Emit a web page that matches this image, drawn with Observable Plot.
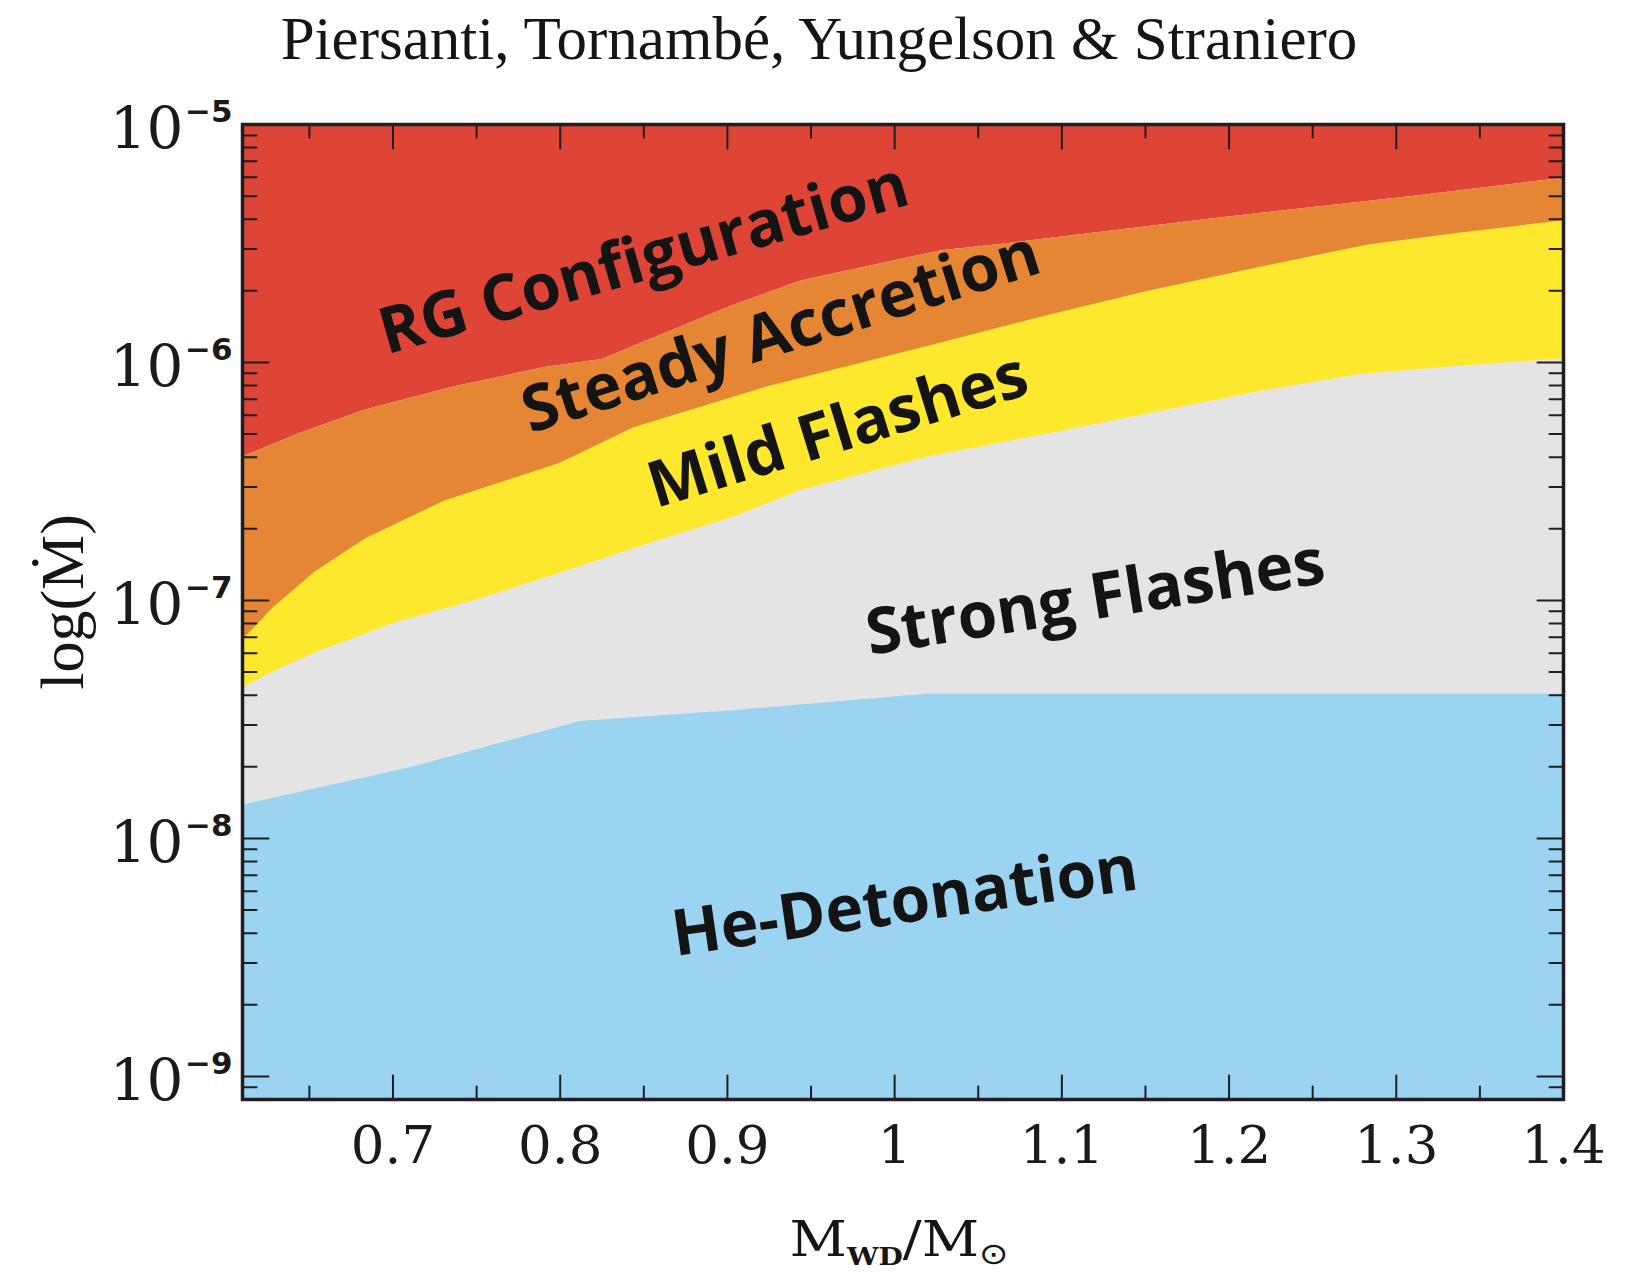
<!DOCTYPE html>
<html>
<head>
<meta charset="utf-8">
<script src="https://cdn.jsdelivr.net/npm/d3@7"></script>
<script src="https://cdn.jsdelivr.net/npm/@observablehq/plot@0.6"></script>
<style>
  html, body { margin: 0; padding: 0; background: #fff; overflow: hidden; }
  #title {
    width: 1638px; height: 84px; text-align: center;
    font-family: "Liberation Serif", "DejaVu Serif", serif;
    font-size: 61px; line-height: 78px; color: #151515;
  }
</style>
</head>
<body>
<div id="title">Piersanti, Tornambé, Yungelson &amp; Straniero</div>
<div id="chart"></div>
<script>
// Upper edge of each accretion regime: white-dwarf mass (M_sun) and accretion rate (M_sun/yr).
const steadyTopMass = [0.61, 0.643, 0.683, 0.737, 0.79, 0.825, 0.903, 0.944, 1.028, 1.066, 1.188, 1.311, 1.40];
const steadyTopRate = [4.0e-7, 5.0e-7, 6.3e-7, 7.9e-7, 9.5e-7, 1.03e-6, 1.73e-6, 2.2e-6, 2.95e-6, 3.15e-6, 4.0e-6, 5.0e-6, 5.95e-6];

const mildTopMass = [0.61, 0.628, 0.653, 0.684, 0.731, 0.80, 0.844, 0.924, 1.022, 1.091, 1.153, 1.216, 1.283, 1.341, 1.40];
const mildTopRate = [6.8e-8, 9.25e-8, 1.31e-7, 1.82e-7, 2.62e-7, 3.77e-7, 5.32e-7, 7.9e-7, 1.18e-6, 1.57e-6, 2.0e-6, 2.49e-6, 3.12e-6, 3.52e-6, 3.94e-6];

const strongTopMass = [0.61, 0.628, 0.653, 0.70, 0.747, 0.80, 0.853, 0.903, 0.944, 1.019, 1.091, 1.153, 1.216, 1.278, 1.341, 1.40];
const strongTopRate = [4.3e-8, 5.0e-8, 6.0e-8, 8.0e-8, 9.9e-8, 1.3e-7, 1.73e-7, 2.23e-7, 2.9e-7, 4.0e-7, 5.0e-7, 6.1e-7, 7.5e-7, 8.9e-7, 9.7e-7, 1.035e-6];

const heTopMass = [0.61, 0.709, 0.812, 0.903, 1.019, 1.40];
const heTopRate = [1.38e-8, 1.97e-8, 3.1e-8, 3.44e-8, 4.04e-8, 4.04e-8];

// Regime names and where they are written.
const labelText  = ["RG Configuration", "Steady Accretion", "Mild Flashes", "Strong Flashes", "He-Detonation"];
const labelMass  = [0.850, 0.932, 0.966, 1.120, 1.006];
const labelRate  = [2.71e-6, 1.33e-6, 5.15e-7, 1.02e-7, 5.4e-9];
const labelAngle = [-16, -17.5, -17, -9, -8.2];

// Axis ticks and titles.
const xMajor = [0.7, 0.8, 0.9, 1.0, 1.1, 1.2, 1.3, 1.4];
const xTickLabels = ["0.7", "0.8", "0.9", "1", "1.1", "1.2", "1.3", "1.4"];
const xMinor = [0.65, 0.75, 0.85, 0.95, 1.05, 1.15, 1.25, 1.35];
const yMajor = [1e-9, 1e-8, 1e-7, 1e-6, 1e-5];
const yTickExponents = ["\u22129", "\u22128", "\u22127", "\u22126", "\u22125"];
const yMinor = [];
for (let e = -10; e < -5; ++e) for (let k = 2; k <= 9; ++k) {
  const v = k * Math.pow(10, e);
  if (v >= 8e-10 && v < 1e-5) yMinor.push(v);
}
const yTitle = "log(\u1E40)";
const xTitle = ["M", "WD", "/M", "\u2299"];

const colors = {
  rg: "#de4537",
  steady: "#e48634",
  mild: "#fde82e",
  strong: "#e4e4e5",
  he: "#9bd4f1"
};

const xDomain = [0.61, 1.4];
const yDomain = [8.0e-10, 1e-5];

const rows = (ms, rs) => ms.map((m, i) => ({m, r: rs[i]}));
const steadyTop = rows(steadyTopMass, steadyTopRate);
const mildTop = rows(mildTopMass, mildTopRate);
const strongTop = rows(strongTopMass, strongTopRate);
const heTop = rows(heTopMass, heTopRate);
const labels = labelText.map((t, i) => ({t, m: labelMass[i], r: labelRate[i], a: labelAngle[i]}));

// A straight tick drawn from its anchor point towards the inside of the frame.
const inwardTick = {draw(context, l) { context.moveTo(0, 0); context.lineTo(0, -l); }};
const ink = "#1f1f1f";
const serif = "Liberation Serif, DejaVu Serif, serif";
const wideSerif = "DejaVu Serif, Liberation Serif, serif";
const hand = "Comic Sans MS, Open Sans, DejaVu Sans, sans-serif";

const tickMarks = (values, axis, anchor, rotate, length) => Plot.vector(values, {
  [axis]: (d) => d, frameAnchor: anchor, rotate, length, anchor: "start",
  shape: inwardTick, stroke: ink, strokeWidth: 2
});

const chart = Plot.plot({
  width: 1638,
  height: 1193,
  marginTop: 40,
  marginBottom: 178,
  marginLeft: 242,
  marginRight: 75,
  x: {domain: xDomain, axis: null},
  y: {type: "log", domain: yDomain, axis: null},
  style: {background: "transparent", overflow: "visible"},
  marks: [
    // Regimes, painted from the top one downwards.
    Plot.areaY(steadyTop, {x: "m", y1: "r", y2: () => yDomain[1], fill: colors.rg, clip: true}),
    Plot.areaY(steadyTop, {x: "m", y1: () => yDomain[0], y2: "r", fill: colors.steady, clip: true}),
    Plot.areaY(mildTop, {x: "m", y1: () => yDomain[0], y2: "r", fill: colors.mild, clip: true}),
    Plot.areaY(strongTop, {x: "m", y1: () => yDomain[0], y2: "r", fill: colors.strong, clip: true}),
    Plot.areaY(heTop, {x: "m", y1: () => yDomain[0], y2: "r", fill: colors.he, clip: true}),

    // Regime names.
    Plot.text(labels, {
      x: "m", y: "r", text: "t", rotate: "a",
      fontSize: 64, fontWeight: "bold", fontFamily: hand, fill: "#141414"
    }),

    // Inward ticks on all four sides.
    tickMarks(xMajor, "x", "bottom", 0, 24),
    tickMarks(xMinor, "x", "bottom", 0, 13),
    tickMarks(xMajor, "x", "top", 180, 24),
    tickMarks(xMinor, "x", "top", 180, 13),
    tickMarks(yMajor, "y", "left", 90, 26),
    tickMarks(yMinor, "y", "left", 90, 14),
    tickMarks(yMajor, "y", "right", -90, 26),
    tickMarks(yMinor, "y", "right", -90, 14),

    Plot.frame({stroke: ink, strokeWidth: 3.5}),

    // Tick labels.
    Plot.text(xMajor, {
      x: (d) => d, frameAnchor: "bottom", lineAnchor: "middle", text: (d, i) => xTickLabels[i],
      dy: 47, fontSize: 53, fontFamily: wideSerif, fill: "#1a1a1a"
    }),
    Plot.text(yMajor, {
      y: (d) => d, frameAnchor: "left", text: () => "10", textAnchor: "end",
      dx: -59, dy: 5, fontSize: 58, fontFamily: wideSerif, fill: "#1a1a1a"
    }),
    Plot.text(yMajor, {
      y: (d) => d, frameAnchor: "left", text: (d, i) => yTickExponents[i],
      textAnchor: "end", dx: -10, dy: -12, fontSize: 31, fontWeight: "bold",
      fontFamily: "DejaVu Sans, sans-serif", fill: "#1a1a1a"
    }),

    // Axis titles.
    Plot.text([yTitle], {
      frameAnchor: "left", textAnchor: "middle", lineAnchor: "middle", text: (d) => d,
      rotate: -90, dx: -179, dy: -10,
      fontSize: 62, fontFamily: serif, fill: "#151515"
    }),
    Plot.text([xTitle.join("")], {
      frameAnchor: "bottom", textAnchor: "middle", lineAnchor: "middle", text: (d) => d,
      dy: 141, dx: -4, fontSize: 48, fontFamily: wideSerif, fill: "#151515"
    })
  ]
});

document.getElementById("chart").appendChild(chart);

// Set the x title with real subscripts.
d3.select(chart).selectAll("text")
  .filter(function () { return this.textContent === xTitle.join(""); })
  .each(function () {
    const t = d3.select(this);
    t.text(null);
    t.append("tspan").text(xTitle[0]);
    t.append("tspan").attr("dy", 9).attr("font-size", 24).attr("font-weight", "bold").text(xTitle[1]);
    t.append("tspan").attr("dy", -9).text(xTitle[2]);
    t.append("tspan").attr("dy", 8).attr("font-size", 30)
      .attr("font-family", "DejaVu Sans, sans-serif").text(xTitle[3]);
    t.attr("textLength", 219).attr("lengthAdjust", "spacingAndGlyphs");
  });
</script>
</body>
</html>
